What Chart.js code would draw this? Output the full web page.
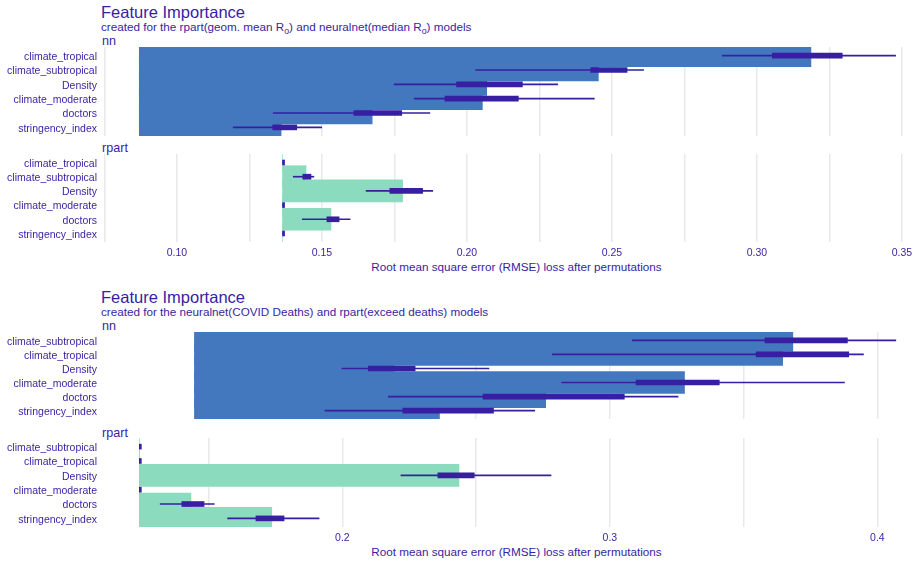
<!DOCTYPE html>
<html>
<head>
<meta charset="utf-8">
<script src="https://cdn.jsdelivr.net/npm/chart.js@4.4.1/dist/chart.umd.min.js"></script>
<style>
    body { margin: 0; width: 915px; height: 562px; overflow: hidden; background: #fff; position: relative;
           font-family: "Liberation Sans", Arial, sans-serif; color: #371ea3; }
    .t { position: absolute; left: 101px; white-space: nowrap; line-height: 1; }
    .title { font-size: 16.5px; }
    .sub { font-size: 11.7px; }
    .strip { font-size: 12.6px; left: 102px; }
    .xt { font-size: 11.7px; left: 100px; width: 833px; text-align: center; }
    .sub span { font-size: 0.75em; position: relative; top: 0.3em; }
    canvas { position: absolute; left: 0; }
</style>
</head>
<body>
<div class="t title" style="top:4px">Feature Importance</div>
<div class="t sub" style="top:21px">created for the rpart(geom. mean R<span>o</span>) and neuralnet(median R<span>o</span>) models</div>
<div class="t strip" style="top:35px">nn</div>
<div class="t strip" style="top:142px">rpart</div>
<div class="t xt" style="top:261px">Root mean square error (RMSE) loss after permutations</div>

<div class="t title" style="top:289px">Feature Importance</div>
<div class="t sub" style="top:306px">created for the neuralnet(COVID Deaths) and rpart(exceed deaths) models</div>
<div class="t strip" style="top:320px">nn</div>
<div class="t strip" style="top:427px">rpart</div>
<div class="t xt" style="top:546px">Root mean square error (RMSE) loss after permutations</div>

<canvas id="topNn" width="935" height="89" style="top:47px"></canvas>
<canvas id="topRp" width="935" height="110" style="top:154px"></canvas>
<canvas id="botNn" width="935" height="87" style="top:332px"></canvas>
<canvas id="botRp" width="935" height="111" style="top:438px"></canvas>

<script>
//--- TOP PLOT: rpart(geom. mean Ro) and neuralnet(median Ro) ---//
const topFeatures = ["climate_tropical", "climate_subtropical", "Density", "climate_moderate", "doctors", "stringency_index"];

const topNnBase = 0.0870;
const topNnLoss = [0.3186, 0.2453, 0.2068, 0.2053, 0.1673, 0.1359];
const topNnMin = [0.2880, 0.2030, 0.1749, 0.1818, 0.1332, 0.1194];
const topNnQ1 = [0.3053, 0.2427, 0.1964, 0.1924, 0.1610, 0.1330];
const topNnQ3 = [0.3294, 0.2552, 0.2191, 0.2177, 0.1775, 0.1413];
const topNnMax = [0.3478, 0.2609, 0.2313, 0.2439, 0.1872, 0.1499];

const topRpBase = 0.1364;
const topRpLoss = [0.1364, 0.1445, 0.1778, 0.1364, 0.1531, 0.1364];
const topRpMin = [0.1364, 0.1401, 0.1652, 0.1364, 0.1432, 0.1364];
const topRpQ1 = [0.1364, 0.1434, 0.1734, 0.1364, 0.1517, 0.1364];
const topRpQ3 = [0.1364, 0.1462, 0.1847, 0.1364, 0.1559, 0.1364];
const topRpMax = [0.1364, 0.1472, 0.1882, 0.1364, 0.1597, 0.1364];

const topGrid = [0.075, 0.10, 0.125, 0.15, 0.175, 0.20, 0.225, 0.25, 0.275, 0.30, 0.325, 0.35];
const topTicks = [0.10, 0.15, 0.20, 0.25, 0.30, 0.35];
const topTickLabels = ["0.10", "0.15", "0.20", "0.25", "0.30", "0.35"];

//--- BOTTOM PLOT: neuralnet(COVID Deaths) and rpart(exceed deaths) ---//
const botFeatures = ["climate_subtropical", "climate_tropical", "Density", "climate_moderate", "doctors", "stringency_index"];

const botNnBase = 0.1447;
const botNnLoss = [0.3684, 0.3646, 0.2194, 0.3279, 0.2760, 0.2363];
const botNnMin = [0.3084, 0.2785, 0.1998, 0.2820, 0.2172, 0.1935];
const botNnQ1 = [0.3580, 0.3547, 0.2097, 0.3098, 0.2526, 0.2226];
const botNnQ3 = [0.3888, 0.3893, 0.2272, 0.3409, 0.3054, 0.2565];
const botNnMax = [0.4069, 0.3948, 0.2548, 0.3877, 0.3255, 0.2719];

const botRpBase = 0.1241;
const botRpLoss = [0.1241, 0.1241, 0.2436, 0.1241, 0.1434, 0.1736];
const botRpMin = [0.1241, 0.1241, 0.2219, 0.1241, 0.1319, 0.1571];
const botRpQ1 = [0.1241, 0.1241, 0.2357, 0.1241, 0.1400, 0.1677];
const botRpQ3 = [0.1241, 0.1241, 0.2493, 0.1241, 0.1483, 0.1782];
const botRpMax = [0.1241, 0.1241, 0.2780, 0.1241, 0.1521, 0.1913];

const botGrid = [0.15, 0.20, 0.25, 0.30, 0.35, 0.40];
const botTicks = [0.2, 0.3, 0.4];
const botTickLabels = ["0.2", "0.3", "0.4"];

const purple = "#371ea3";
const nnColor = "#4378bf";
const rpColor = "#8bdcbe";
const font = "'Liberation Sans', Arial, sans-serif";

function makePanel(id, features, base, loss, lo, q1, q3, hi, color, xMin, xMax, grid, ticks, tickLabels, showTicks) {
    const idx = features.map((f, i) => i);
    new Chart(document.getElementById(id).getContext("2d"), {
        type: "bar",
        data: {
            datasets: [{
                // box (25%-75%)
                data: idx.map(i => ({ x: [q1[i], q3[i]], y: i })),
                backgroundColor: purple,
                barThickness: 5,
                minBarLength: 2,
                grouped: false,
                order: 0
            }, {
                // whiskers
                data: idx.map(i => ({ x: [lo[i], hi[i]], y: i })),
                backgroundColor: purple,
                barThickness: 1,
                grouped: false,
                order: 1
            }, {
                // loss bar from full model
                data: idx.map(i => ({ x: [base, loss[i]], y: i })),
                backgroundColor: color,
                barThickness: 22,
                grouped: false,
                order: 2
            }]
        },
        options: {
            indexAxis: "y",
            responsive: false,
            animation: false,
            layout: { padding: { left: 0, right: 2, top: 0, bottom: 0 } },
            plugins: {
                legend: { display: false },
                tooltip: { enabled: false }
            },
            scales: {
                x: {
                    type: "linear",
                    min: xMin,
                    max: xMax,
                    afterBuildTicks: s => { s.ticks = grid.map(v => ({ value: v })); },
                    afterFit: s => {
                        s.height = showTicks ? (s.chart.height - (id === "topRp" ? 88 : 89)) : 0;
                        s.paddingLeft = 0; s.paddingRight = 0;
                    },
                    grid: { color: "#e9e9e9", lineWidth: 1.5, drawTicks: false },
                    border: { display: false },
                    ticks: {
                        display: showTicks,
                        padding: 5,
                        autoSkip: false,
                        maxRotation: 0,
                        color: purple,
                        font: { family: font, size: 10.5 },
                        callback: function (value) {
                            const k = ticks.findIndex(t => Math.abs(t - value) < 1e-9);
                            return k >= 0 ? tickLabels[k] : "";
                        }
                    }
                },
                y: {
                    type: "linear",
                    min: -0.6,
                    max: 5.6,
                    offset: false,
                    reverse: true,
                    afterBuildTicks: s => { s.ticks = idx.map(v => ({ value: v })); },
                    afterFit: s => {
                        s.width = 100;
                        s.paddingTop = 0; s.paddingBottom = 0;
                    },
                    grid: { display: false, drawTicks: false },
                    border: { display: false },
                    ticks: {
                        padding: 3,
                        labelOffset: 1.5,
                        autoSkip: false,
                        color: purple,
                        font: { family: font, size: 10.5 },
                        callback: value => features[value]
                    }
                }
            }
        }
    });
}

makePanel("topNn", topFeatures, topNnBase, topNnLoss, topNnMin, topNnQ1, topNnQ3, topNnMax, nnColor, 0.07345, 0.3607, topGrid, topTicks, topTickLabels, false);
makePanel("topRp", topFeatures, topRpBase, topRpLoss, topRpMin, topRpQ1, topRpQ3, topRpMax, rpColor, 0.07345, 0.3607, topGrid, topTicks, topTickLabels, true);
makePanel("botNn", botFeatures, botNnBase, botNnLoss, botNnMin, botNnQ1, botNnQ3, botNnMax, nnColor, 0.1094, 0.4208, botGrid, botTicks, botTickLabels, false);
makePanel("botRp", botFeatures, botRpBase, botRpLoss, botRpMin, botRpQ1, botRpQ3, botRpMax, rpColor, 0.1094, 0.4208, botGrid, botTicks, botTickLabels, true);
</script>
</body>
</html>
